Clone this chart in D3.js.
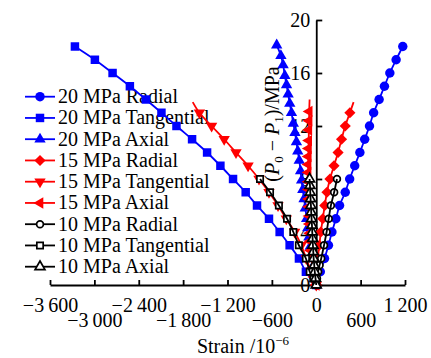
<!DOCTYPE html>
<html>
<head>
<meta charset="utf-8">
<script src="https://cdn.jsdelivr.net/npm/d3@7"></script>
<style>
  body { margin: 0; background: #fff; }
  svg text { font-family: "Liberation Serif", "Times New Roman", serif; fill: #000; }
</style>
</head>
<body>
<svg id="chart" width="431" height="358"></svg>
<script>
// [pressure (P0-P1) MPa, strain 10^-6]
const radial20 = [[0,0],[1,55],[2,112],[3,165],[4,212],[5,265],[6,315],[7,392],[8,452],[9,520],[10,590],
  [11,655],[12,720],[13,776],[14,850],[15,922],[16,995],[17,1080],[18,1170]];
const tangential20 = [[0,0],[1,-140],[2,-234],[3,-360],[4,-495],[5,-639],[6,-801],[7,-954],[8,-1125],[9,-1296],
  [10,-1476],[11,-1679],[12,-1890],[13,-2093],[14,-2304],[15,-2520],[16,-2754],[17,-2993],[18,-3263]];
const axial20 = [[0,0],[0.7,-25],[1.4,-45],[2.2,-65],[2.9,-82],[3.6,-100],[4.3,-115],[5.0,-130],[5.8,-148],
  [6.5,-165],[7.2,-182],[7.9,-198],[8.6,-212],[9.4,-230],[10.1,-250],[10.8,-268],[11.5,-288],[12.2,-310],
  [13.0,-335],[13.7,-358],[14.4,-380],[15.1,-402],[15.8,-425],[16.6,-448],[17.3,-478],[18.1,-535]];
const radial15 = [[0,0],[1,10],[2,22],[3,42],[4,62],[5,88],[6,115],[7,145],[8,185],[9,240],[10,295],
  [11,342],[12,392],[13,455],[13.8,505]];
const tangential15 = [[0,0],[1,-70],[2,-135],[3,-202],[4,-292],[5,-405],[6,-517],[7,-639],[8,-774],[9,-922],
  [10,-1085],[11,-1245],[12,-1415],[13,-1580],[13.8,-1670]];
const axial15 = [[0,0],[0.6,-30],[1.3,-50],[2.0,-65],[2.6,-75],[3.3,-82],[3.9,-88],[4.6,-92],[5.2,-96],
  [5.9,-100],[6.5,-103],[7.2,-106],[7.8,-108],[8.5,-110],[9.1,-110],[9.7,-108],[10.3,-105],[10.9,-102],
  [11.7,-100],[12.4,-97],[13.1,-95],[14.0,-90]];
const radial10 = [[0,0],[0.5,10],[1,25],[1.5,45],[2,67],[3,105],[4,140],[5,168],[6,198],[7,242],[8,280]];
const tangential10 = [[0,0],[0.5,-40],[1,-88],[2,-140],[3,-235],[4,-310],[5,-395],[6,-505],[7,-625],[8,-760]];
const axial10 = [[0,0],[0.5,-10],[1,-20],[1.5,-27],[2,-35],[2.5,-40],[3,-45],[3.5,-49],[4,-54],[4.5,-58],
  [5,-63],[5.5,-68],[6,-72],[6.5,-77],[7,-81],[7.5,-85],[8,-90]];

const xTicks = [-3600, -3000, -2400, -1800, -1200, -600, 0, 600, 1200];
const yTicks = [0, 4, 8, 12, 16, 20];

const series = [
  { name: "20 MPa Radial", data: radial20, color: "#0000ff", shape: "circle" },
  { name: "20 MPa Tangential", data: tangential20, color: "#0000ff", shape: "square" },
  { name: "20 MPa Axial", data: axial20, color: "#0000ff", shape: "triUp" },
  { name: "15 MPa Radial", data: radial15, color: "#ff0000", shape: "diamond", tail: true },
  { name: "15 MPa Tangential", data: tangential15, color: "#ff0000", shape: "triDown", tail: true },
  { name: "15 MPa Axial", data: axial15, color: "#ff0000", shape: "triLeft", tail: true },
  { name: "10 MPa Radial", data: radial10, color: "#000000", shape: "circle", open: true },
  { name: "10 MPa Tangential", data: tangential10, color: "#000000", shape: "square", open: true },
  { name: "10 MPa Axial", data: axial10, color: "#000000", shape: "triUp", open: true }
];

const shapes = {
  circle:  { type: d3.symbolCircle, size: 70, open: 36, rot: 0 },
  square:  { type: d3.symbolSquare, size: 72, open: 40, rot: 0 },
  triUp:   { type: d3.symbolTriangle, size: 56, open: 42, rot: 0 },
  diamond: { type: d3.symbolSquare, size: 62, open: 36, rot: 45 },
  triDown: { type: d3.symbolTriangle, size: 56, open: 42, rot: 180 },
  triLeft: { type: d3.symbolTriangle, size: 56, open: 42, rot: -90 }
};

const svg = d3.select("#chart");
const x = d3.scaleLinear().domain([-3600, 1200]).range([50, 405]);
const y = d3.scaleLinear().domain([0, 20]).range([285, 20]);

function fmt(v) {
  return d3.format(",")(v).replace(/,/g, "\u2009").replace("-", "\u2212");
}

function drawMarker(sel, s, px, py) {
  const sh = shapes[s.shape];
  sel.append("path")
    .attr("d", d3.symbol().type(sh.type).size(s.open ? sh.open : sh.size)())
    .attr("transform", `translate(${px},${py}) rotate(${sh.rot})`)
    .attr("fill", s.open ? "#fff" : s.color)
    .attr("stroke", s.open ? s.color : "none")
    .attr("stroke-width", 1.7);
}

// axes
const xAxis = svg.append("g")
  .attr("transform", "translate(0,285)")
  .call(d3.axisBottom(x).tickValues(xTicks).tickSizeInner(-5).tickSizeOuter(0).tickPadding(12.5).tickFormat(fmt));
xAxis.selectAll("text")
  .attr("y", (d, i) => i % 2 ? 28 : 12.5)
  .style("font-size", "20px");

const yAxis = svg.append("g")
  .attr("transform", `translate(${x(0)},0)`)
  .call(d3.axisLeft(y).tickValues(yTicks).tickSizeInner(-6).tickSizeOuter(0).tickPadding(6));
yAxis.selectAll("text").style("font-size", "20px");

svg.selectAll(".domain, .tick line").attr("stroke", "#000").attr("stroke-width", 1.8);

// axis titles
const xt = svg.append("text")
  .attr("x", 243).attr("y", 353)
  .attr("text-anchor", "middle")
  .style("font-size", "20px");
xt.append("tspan").text("Strain /10");
xt.append("tspan").attr("dy", -8).style("font-size", "13px").text("\u22126");

const yt = svg.append("text")
  .attr("transform", "translate(279,124) rotate(-90)")
  .attr("text-anchor", "middle")
  .style("font-size", "20px");
yt.append("tspan").text("(");
yt.append("tspan").style("font-style", "italic").text("P");
yt.append("tspan").attr("dy", 4).style("font-size", "13px").text("0");
yt.append("tspan").attr("dy", -4).text(" \u2212 ");
yt.append("tspan").style("font-style", "italic").text("P");
yt.append("tspan").attr("dy", 4).style("font-size", "13px").text("1");
yt.append("tspan").attr("dy", -4).text(")/MPa");

// legend
const legend = svg.append("g");
series.forEach((s, i) => {
  const ly = 96.7 + i * 21.25;
  const g = legend.append("g");
  g.append("line")
    .attr("x1", 25).attr("x2", 55).attr("y1", ly).attr("y2", ly)
    .attr("stroke", s.color).attr("stroke-width", 1.8);
  drawMarker(g, s, 40, ly);
  g.append("text")
    .attr("x", 58).attr("y", ly + 6.5)
    .style("font-size", "20px")
    .text(s.name);
});

// data
const line = d3.line()
  .x(d => x(d[1]))
  .y(d => y(d[0]))
  .curve(d3.curveCatmullRom);

series.forEach(s => {
  const g = svg.append("g");
  const pts = s.tail ? s.data.slice(0, -1) : s.data;
  pts.forEach(d => drawMarker(g, s, x(d[1]), y(d[0])));
  g.append("path")
    .attr("d", line(s.data))
    .attr("fill", "none")
    .attr("stroke", s.color)
    .attr("stroke-width", 1.8);
});
</script>
</body>
</html>
